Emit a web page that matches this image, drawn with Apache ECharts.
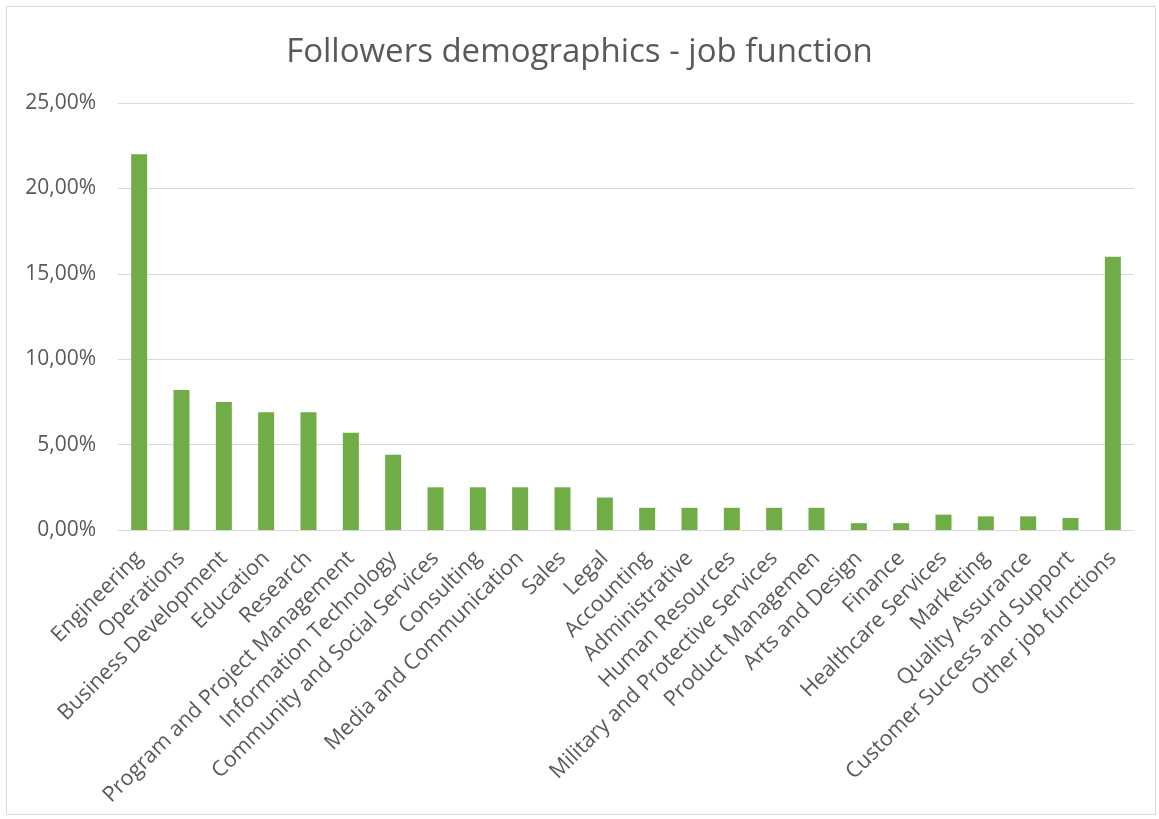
<!DOCTYPE html>
<html>
<head>
<meta charset="utf-8">
<script src="https://cdn.jsdelivr.net/npm/echarts@6/dist/echarts.min.js"></script>
<style>
  html, body { margin: 0; padding: 0; background: #fff; }
  #chart { width: 1159px; height: 819px; }
</style>
</head>
<body>
<div id="chart"></div>
<script>
// job functions, share of followers in %
const categories = [
  'Engineering', 'Operations', 'Business Development', 'Education', 'Research',
  'Program and Project Management', 'Information Technology', 'Community and Social Services',
  'Consulting', 'Media and Communication', 'Sales', 'Legal', 'Accounting', 'Administrative',
  'Human Resources', 'Military and Protective Services', 'Product Managemen', 'Arts and Design',
  'Finance', 'Healthcare Services', 'Marketing', 'Quality Assurance',
  'Customer Success and Support', 'Other job functions'
];
const shares = [
  22.0, 8.2, 7.5, 6.9, 6.9, 5.7, 4.4, 2.5, 2.5, 2.5, 2.5, 1.9, 1.3, 1.3,
  1.3, 1.3, 1.3, 0.4, 0.4, 0.9, 0.8, 0.8, 0.7, 16.0
];
const yTicks = [0, 5, 10, 15, 20, 25];

const fontFamily = '"Open Sans", "Noto Sans", sans-serif';
const textColor = '#595959';

const chart = echarts.init(document.getElementById('chart'));

const option = {
  animation: false,
  backgroundColor: '#fff',
  textStyle: { fontFamily: fontFamily },
  title: {
    text: 'Followers demographics - job function',
    left: 'center',
    top: 31,
    textStyle: { fontSize: 33, fontWeight: 'normal', color: textColor, fontFamily: fontFamily }
  },
  graphic: [
    {
      type: 'rect',
      shape: { x: 6.5, y: 6.5, width: 1149, height: 808 },
      style: { fill: 'none', stroke: '#d9d9d9', lineWidth: 1 },
      silent: true
    }
  ],
  grid: {
    left: 118,
    right: 25,
    top: 103,
    bottom: 289,
    containLabel: false
  },
  xAxis: {
    type: 'category',
    data: categories,
    axisTick: { show: false },
    axisLine: { lineStyle: { color: '#d9d9d9', width: 1 } },
    axisLabel: {
      interval: 0,
      rotate: 45,
      margin: 25,
      color: textColor,
      fontSize: 21.5,
      fontFamily: fontFamily
    }
  },
  yAxis: {
    type: 'value',
    min: yTicks[0],
    max: yTicks[yTicks.length - 1],
    interval: 5,
    axisLine: { show: false },
    axisTick: { show: false },
    splitLine: { lineStyle: { color: '#d9d9d9', width: 1 } },
    axisLabel: {
      color: textColor,
      fontSize: 21,
      margin: 22,
      fontFamily: fontFamily,
      formatter: (v) => v.toFixed(2).replace('.', ',') + '%'
    }
  },
  series: [
    {
      type: 'bar',
      data: shares,
      barWidth: 16,
      itemStyle: { color: '#70ad47' }
    }
  ]
};

chart.setOption(option);
</script>
</body>
</html>
